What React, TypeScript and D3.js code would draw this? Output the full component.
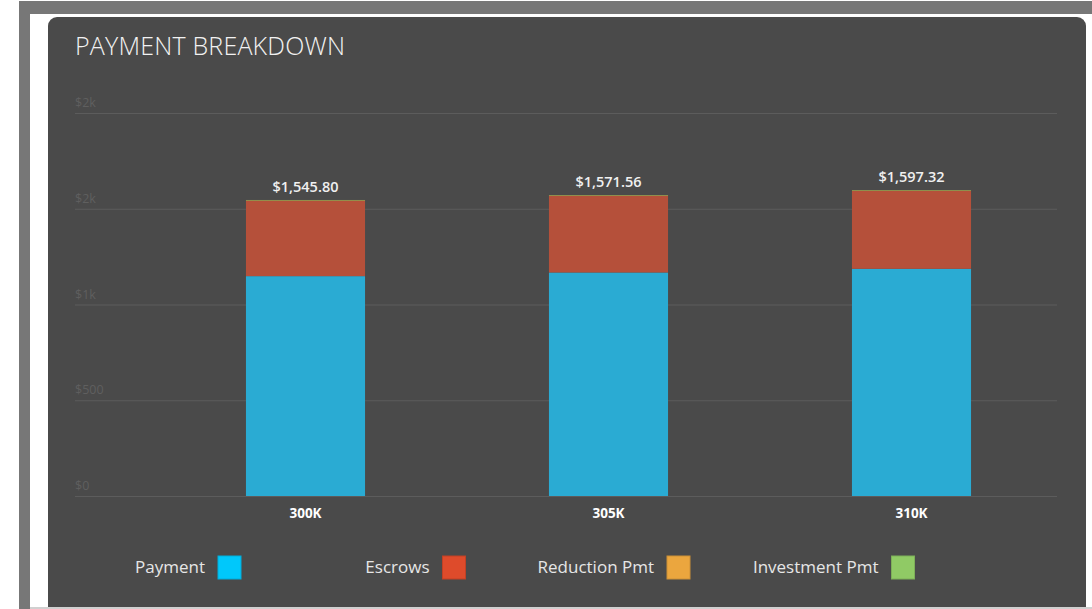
import React from "react";
import * as d3 from "d3";

const categories = ["300K", "305K", "310K"];
const seriesNames = ["Payment", "Escrows", "Reduction Pmt", "Investment Pmt"];
const payment = [1148.1, 1167.24, 1186.37];
const escrows = [393.7, 400.32, 406.95];
const reductionPmt = [2.0, 2.0, 2.0];
const investmentPmt = [2.0, 2.0, 2.0];
const totalLabels = ["$1,545.80", "$1,571.56", "$1,597.32"];
const yTicks = [0, 500, 1000, 1500, 2000];
const yTickLabels = ["$0", "$500", "$1k", "$2k", "$2k"];

const barColors = ["#2aabd3", "#b5503a", "#e9a43c", "#8cc862"];
const legendColors = ["#00c8fb", "#de4b2b", "#eba63e", "#90ca65"];

const W = 1092;
const H = 609;
const FONT = "'Open Sans', Lato, sans-serif";

export default function App() {
  const rows = categories.map((c, i) => ({
    cat: c,
    Payment: payment[i],
    Escrows: escrows[i],
    "Reduction Pmt": reductionPmt[i],
    "Investment Pmt": investmentPmt[i],
  }));
  const stack = d3.stack<any>().keys(seriesNames)(rows);

  const x = d3
    .scaleBand<string>()
    .domain(categories)
    .range([154, 1063])
    .paddingInner(0.607)
    .paddingOuter(0.3035);
  const y = d3.scaleLinear().domain([0, 2000]).range([496, 113]);

  const gridX0 = 75;
  const gridX1 = 1057;

  return (
    <div style={{ position: "fixed", left: 0, top: 0, width: W, height: H }}>
      <svg width={W} height={H} style={{ display: "block" }}>
        <rect x={0} y={0} width={W} height={H} fill="#ffffff" />
        {/* outer gray frame */}
        <rect x={19} y={1} width={W - 19} height={13} fill="#777777" />
        <rect x={19} y={1} width={11} height={H} fill="#777777" />
        {/* panel */}
        <rect x={48} y={17} width={1038} height={H + 20} rx={9} ry={9} fill="#4a4a4a" />
        <rect x={30} y={607} width={W} height={2} fill="#d0d0d0" />

        <text
          x={75}
          y={55}
          fill="#f2f2f2"
          fontFamily={FONT}
          fontWeight={300}
          fontSize={25}
          letterSpacing={0.2}
        >
          PAYMENT BREAKDOWN
        </text>

        {/* grid */}
        {yTicks.map((t, i) => (
          <g key={t}>
            <line
              x1={gridX0}
              x2={gridX1}
              y1={y(t) + 0.5}
              y2={y(t) + 0.5}
              stroke="#5c5c5c"
              strokeWidth={1}
            />
            <text
              x={gridX0}
              y={y(t) - 6}
              fill="#5f5f5f"
              fontFamily={FONT}
              fontSize={12.5}
            >
              {yTickLabels[i]}
            </text>
          </g>
        ))}

        {/* bars */}
        {stack.map((s, si) => (
          <g key={s.key} fill={barColors[si]}>
            {s.map((d: any, i: number) => (
              <rect
                key={i}
                x={x(categories[i])}
                y={y(d[1])}
                width={x.bandwidth()}
                height={Math.max(0, y(d[0]) - y(d[1]))}
              />
            ))}
          </g>
        ))}

        {/* total labels */}
        {categories.map((c, i) => {
          const top = stack[stack.length - 1][i][1];
          return (
            <text
              key={c}
              x={(x(c) as number) + x.bandwidth() / 2}
              y={y(top) - 8}
              textAnchor="middle"
              fill="#f0f0f0"
              fontFamily={FONT}
              fontWeight={600}
              fontSize={14.5}
            >
              {totalLabels[i]}
            </text>
          );
        })}

        {/* x labels */}
        {categories.map((c) => (
          <text
            key={c}
            x={(x(c) as number) + x.bandwidth() / 2}
            y={518}
            textAnchor="middle"
            fill="#ffffff"
            fontFamily={FONT}
            fontWeight={700}
            fontSize={13.5}
          >
            {c}
          </text>
        ))}

        {/* legend */}
        {seriesNames.map((n, i) => {
          const textEnd = 205 + i * 224.5;
          return (
            <g key={n}>
              <text
                x={textEnd}
                y={573}
                textAnchor="end"
                fill="#e6e6e6"
                fontFamily={FONT}
                fontSize={17}
              >
                {n}
              </text>
              <rect
                x={textEnd + 13}
                y={556}
                width={23}
                height={23}
                fill={legendColors[i]}
                stroke={d3.color(legendColors[i])!.darker(0.4).toString()}
                strokeWidth={1}
              />
            </g>
          );
        })}
      </svg>
    </div>
  );
}
